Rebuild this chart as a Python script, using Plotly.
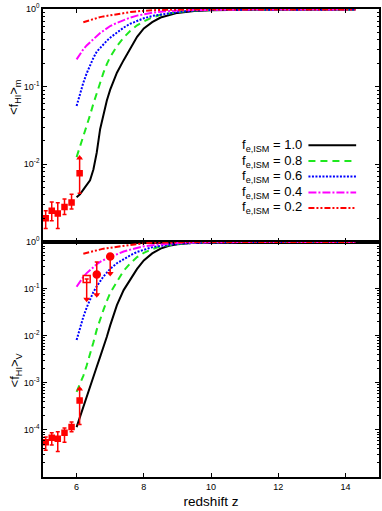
import plotly.graph_objects as go
from plotly.subplots import make_subplots

# redshift grid of the model curves
z_model = [6.0, 6.1, 6.2, 6.3, 6.4, 6.5, 6.6, 6.7, 6.8, 6.9, 7.0, 7.2, 7.4, 7.6, 7.8,
           8.0, 8.25, 8.5, 8.75, 9.0, 9.5, 10.0, 11.0, 12.0, 13.0, 14.3]

# mass-weighted neutral fraction <f_HI>_m (top panel)
mass_10 = [0.00372, 0.00407, 0.00468, 0.00537, 0.00617, 0.00851, 0.0141, 0.0282, 0.0447, 0.0661,
           0.0912, 0.151, 0.219, 0.316, 0.437, 0.562, 0.676, 0.776, 0.841, 0.891, 0.944, 0.966,
           0.977, 0.982, 0.982, 0.982]
mass_08 = [0.0123, 0.0166, 0.0224, 0.0309, 0.0427, 0.0603, 0.0832, 0.112, 0.151, 0.195, 0.240,
           0.331, 0.427, 0.525, 0.617, 0.692, 0.776, 0.841, 0.881, 0.912, 0.955, 0.973, 0.979,
           0.982, 0.982, 0.982]
mass_06 = [0.0562, 0.0813, 0.112, 0.148, 0.191, 0.234, 0.282, 0.316, 0.355, 0.389, 0.427, 0.501,
           0.575, 0.646, 0.708, 0.759, 0.813, 0.851, 0.891, 0.912, 0.955, 0.973, 0.979, 0.982,
           0.982, 0.982]
mass_04 = [0.224, 0.263, 0.302, 0.339, 0.372, 0.417, 0.457, 0.490, 0.525, 0.562, 0.603, 0.661,
           0.724, 0.776, 0.822, 0.861, 0.895, 0.923, 0.942, 0.955, 0.970, 0.977, 0.982, 0.982,
           0.982, 0.982]
mass_02 = [None, None, 0.676, 0.700, 0.724, 0.746, 0.767, 0.786, 0.803, 0.818, 0.832, 0.861,
           0.891, 0.912, 0.933, 0.951, 0.964, 0.973, 0.977, 0.982, 0.986, 0.986, 0.986, 0.986,
           0.986, 0.986]

# volume-weighted neutral fraction <f_HI>_V (bottom panel)
vol_10 = [0.000115, 0.000191, 0.000316, 0.000525, 0.000832, 0.00132, 0.00219, 0.00355, 0.00562,
          0.00955, 0.0166, 0.0447, 0.0933, 0.158, 0.263, 0.398, 0.562, 0.708, 0.813, 0.881,
          0.944, 0.971, 0.979, 0.982, 0.982, 0.982]
vol_08 = [0.000646, 0.000955, 0.00141, 0.00234, 0.00398, 0.00724, 0.0135, 0.0229, 0.0355, 0.0550,
          0.0813, 0.141, 0.240, 0.347, 0.468, 0.575, 0.692, 0.794, 0.851, 0.891, 0.944, 0.971,
          0.979, 0.982, 0.982, 0.982]
vol_06 = [0.00813, 0.0148, 0.0251, 0.0398, 0.0603, 0.0851, 0.112, 0.145, 0.182, 0.219, 0.263,
          0.347, 0.427, 0.513, 0.603, 0.676, 0.759, 0.813, 0.861, 0.891, 0.944, 0.966, 0.979,
          0.982, 0.982, 0.982]
vol_04 = [0.110, 0.141, 0.178, 0.214, 0.251, 0.288, 0.331, 0.372, 0.407, 0.447, 0.479, 0.537,
          0.617, 0.676, 0.741, 0.794, 0.841, 0.881, 0.912, 0.933, 0.959, 0.973, 0.979, 0.982,
          0.982, 0.982]
vol_02 = [None, None, 0.550, 0.575, 0.603, 0.631, 0.661, 0.684, 0.708, 0.724, 0.741, 0.794,
          0.832, 0.871, 0.902, 0.923, 0.944, 0.959, 0.971, 0.977, 0.984, 0.986, 0.986, 0.986,
          0.986, 0.986]

# observations (QSO absorption spectra)
z_obs = [5.08, 5.26, 5.44, 5.64, 5.85]
m_obs = [0.0020, 0.0025, 0.0023, 0.0028, 0.0032]
m_obs_hi = [0.0025, 0.00324, 0.00316, 0.00355, 0.00407]
m_obs_lo = [0.00148, 0.00186, 0.00148, 0.00224, 0.00263]
v_obs = [5.5e-5, 6.8e-5, 6.5e-5, 8.7e-5, 1.15e-4]
v_obs_hi = [7.1e-5, 8.7e-5, 9.1e-5, 1.1e-4, 1.48e-4]
v_obs_lo = [3.7e-5, 4.8e-5, 3.5e-5, 5.5e-5, 9.1e-5]

# z = 6.1 lower limits
z_lim = [6.09]
m_lim, m_lim_hi, m_lim_lo = [0.0076], [0.0120], [0.0042]
v_lim, v_lim_hi, v_lim_lo = [4.2e-4], [7.4e-4], [1.3e-4]

# upper limits at higher z (volume weighted)
z_open, v_open, v_open_lo = [6.3], [0.16], [0.06]
z_circ = [6.6, 7.0]
v_circ = [0.20, 0.48]
v_circ_hi = [0.37, 0.48]
v_circ_lo = [0.074, 0.21]

fe_labels = ["1.0", "0.8", "0.6", "0.4", "0.2"]
colors = ["#000000", "#1ee81e", "#0000ff", "#ff00ff", "#ff0000"]
dashes = ["solid", "7px,5px", "2px,1.5px", "8px,2px,2px,2px", "6px,2px,2px,2px,2px,2px"]
RED = "#ff0000"

fig = make_subplots(rows=2, cols=1, shared_xaxes=True, vertical_spacing=0,
                    row_heights=[0.497, 0.503])

mass_curves = [mass_10, mass_08, mass_06, mass_04, mass_02]
vol_curves = [vol_10, vol_08, vol_06, vol_04, vol_02]
for i in range(5):
    line = dict(color=colors[i], width=2, dash=dashes[i])
    fig.add_trace(go.Scatter(x=z_model, y=mass_curves[i], mode="lines", line=line,
                             showlegend=False), row=1, col=1)
    fig.add_trace(go.Scatter(x=z_model, y=vol_curves[i], mode="lines", line=line,
                             showlegend=False), row=2, col=1)


def err(v, hi, lo):
    return [h - a for a, h in zip(v, hi)], [a - l for a, l in zip(v, lo)]


def add_points(x, y, hi, lo, symbol, row, size=5):
    up, down = err(y, hi, lo)
    fig.add_trace(go.Scatter(x=x, y=y, mode="markers", cliponaxis=False,
                             marker=dict(symbol=symbol, size=size, color=RED,
                                         line=dict(color=RED, width=1.5)),
                             error_y=dict(type="data", array=up, arrayminus=down,
                                          color=RED, thickness=1.5, width=2),
                             showlegend=False), row=row, col=1)


def add_arrow(x, y, symbol, row):
    fig.add_trace(go.Scatter(x=x, y=y, mode="markers",
                             marker=dict(symbol=symbol, size=6, color=RED),
                             showlegend=False), row=row, col=1)


add_points(z_obs, m_obs, m_obs_hi, m_obs_lo, "square", 1)
add_points(z_lim, m_lim, m_lim_hi, m_lim_lo, "square", 1)
add_arrow(z_lim, m_lim_hi, "triangle-up", 1)

add_points(z_obs, v_obs, v_obs_hi, v_obs_lo, "square", 2)
add_points(z_lim, v_lim, v_lim_hi, v_lim_lo, "square", 2)
add_arrow(z_lim, v_lim_hi, "triangle-up", 2)
add_points(z_open, v_open, v_open, v_open_lo, "square-open", 2, size=7)
add_arrow(z_open, v_open_lo, "triangle-down", 2)
add_points(z_circ, v_circ, v_circ_hi, v_circ_lo, "circle", 2, size=7)
add_arrow(z_circ, v_circ_lo, "triangle-down", 2)

axis_style = dict(showline=True, linecolor="black", linewidth=1.5, mirror="ticks",
                  ticks="inside", ticklen=4, tickcolor="black", tickwidth=1,
                  showgrid=False, zeroline=False,
                  tickfont=dict(family="Liberation Sans, Arial", size=9, color="black"))


def minor_vals(lo_exp, hi_exp):
    return [m * 10.0 ** e for e in range(lo_exp, hi_exp) for m in range(2, 10)]


fig.update_xaxes(**axis_style, range=[5, 15], tickmode="array",
                 tickvals=[6, 8, 10, 12, 14])
fig.update_xaxes(showticklabels=False, row=1, col=1)
fig.update_xaxes(ticktext=["6", "8", "10", "12", "14"],
                 title=dict(text="redshift z", standoff=6,
                            font=dict(family="Liberation Sans, Arial", size=13.5,
                                      color="black")),
                 row=2, col=1)

fig.update_yaxes(**axis_style, type="log", row=1, col=1, range=[-3, 0], tickmode="array",
                 tickvals=[0.01, 0.1, 1],
                 ticktext=["10<sup>-2</sup>", "10<sup>-1</sup>", "10<sup>0</sup>"],
                 minor=dict(ticks="inside", ticklen=2, tickcolor="black", tickmode="array",
                            tickvals=minor_vals(-3, 0)))
fig.update_yaxes(**axis_style, type="log", row=2, col=1, range=[-5, 0], tickmode="array",
                 tickvals=[1e-4, 1e-3, 1e-2, 0.1, 1],
                 ticktext=["10<sup>-4</sup>", "10<sup>-3</sup>", "10<sup>-2</sup>",
                           "10<sup>-1</sup>", "10<sup>0</sup>"],
                 minor=dict(ticks="inside", ticklen=2, tickcolor="black", tickmode="array",
                            tickvals=minor_vals(-5, 0)))

font = dict(family="Liberation Sans, Arial", size=13, color="black")
annotations = [
    dict(text="&lt;f<sub>HI</sub>&gt;<sub>m</sub>", x=-0.083, y=0.81, textangle=-90),
    dict(text="&lt;f<sub>HI</sub>&gt;<sub>V</sub>", x=-0.083, y=0.228, textangle=-90),
]
for a in annotations:
    a.update(xref="paper", yref="paper", showarrow=False, font=font,
             xanchor="center", yanchor="middle")

# legend: label on the left, line sample on the right
leg_y = [0.709, 0.675, 0.642, 0.608, 0.575]
shapes = []
for i in range(5):
    annotations.append(dict(text="f<sub>e,ISM</sub> = " + fe_labels[i], xref="paper",
                            yref="paper", x=0.778, y=leg_y[i], xanchor="right",
                            yanchor="middle", showarrow=False, font=font))
    shapes.append(dict(type="line", xref="paper", yref="paper", x0=0.79, x1=0.932,
                       y0=leg_y[i], y1=leg_y[i],
                       line=dict(color=colors[i], width=2, dash=dashes[i])))

fig.update_layout(width=382, height=511, margin=dict(l=43, r=1, t=9, b=34),
                  plot_bgcolor="white", paper_bgcolor="white",
                  annotations=annotations, shapes=shapes, showlegend=False)

# drop the default page margin so the figure sits at the window's corner
fig.write_html("out.html", config={"displayModeBar": False},
               post_script="document.body.style.margin='0';"
                           "document.body.style.overflow='hidden';")
